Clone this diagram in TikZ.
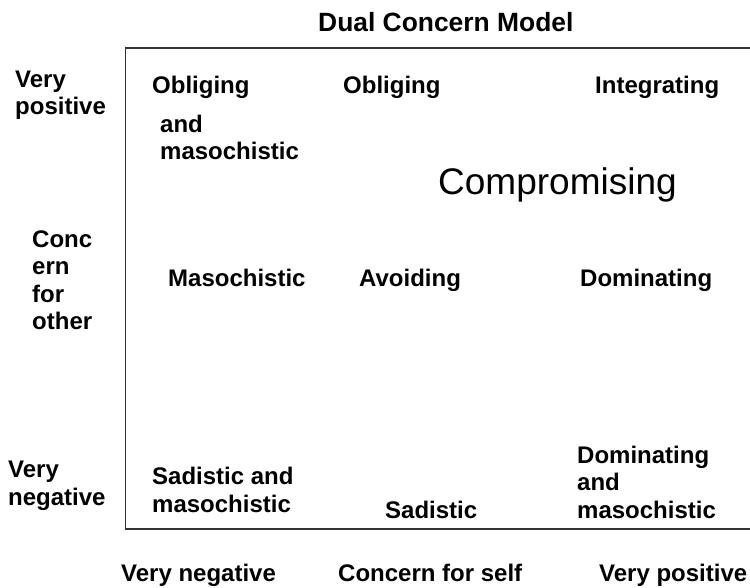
\documentclass[tikz,border=0pt]{standalone}
\usepackage{fontspec}
\setmainfont{Liberation Sans}
\begin{document}
\begin{tikzpicture}[x=1pt,y=-1pt,
  lbl/.style={font=\fontsize{24}{27.5}\selectfont\bfseries, inner sep=0pt, anchor=base west, align=left},
  big/.style={font=\fontsize{37}{40}\selectfont, inner sep=0pt, anchor=base west},
  ttl/.style={font=\fontsize{26.4}{28}\selectfont\bfseries, inner sep=0pt, anchor=base west},
  frame/.style={draw=black!80, line width=1.3pt}]
\useasboundingbox (0,0) rectangle (750,588);
\coordinate (tr) at (750,48);
\coordinate (tl) at (125.5,48);
\coordinate (bl) at (125.5,529);
\coordinate (br) at (750,529);
\draw[frame] (tr) -- (tl) -- (bl) -- (br);
\node[ttl] (title) at (318,32) {Dual Concern Model};
% left axis (base = last line)
\node[lbl] (vp) at (15,115) {Very\\positive};
\node[lbl] (cfo) at (32,330) {Conc\\ern\\for\\other};
\node[lbl] (vn) at (8,505) {Very\\negative};
% top row
\node[lbl] (ob1) at (152,94) {Obliging};
\node[lbl] (am) at (160,160) {and\\masochistic};
\node[lbl] (ob2) at (343,94) {Obliging};
\node[lbl] (int) at (595,94) {Integrating};
\node[big] (comp) at (438,195) {Compromising};
% middle row
\node[lbl] (mas) at (168,287) {Masochistic};
\node[lbl] (avo) at (359,287) {Avoiding};
\node[lbl] (dom) at (580,287) {Dominating};
% bottom row
\node[lbl] (sam) at (152,512) {Sadistic and\\masochistic};
\node[lbl] (sad) at (385,518) {Sadistic};
\node[lbl] (dam) at (577,518) {Dominating\\and\\masochistic};
% bottom axis
\node[lbl] (bvn) at (121,581) {Very negative};
\node[lbl] (cfs) at (338,581) {Concern for self};
\node[lbl] (bvp) at (599,581) {Very positive};
\end{tikzpicture}
\end{document}
